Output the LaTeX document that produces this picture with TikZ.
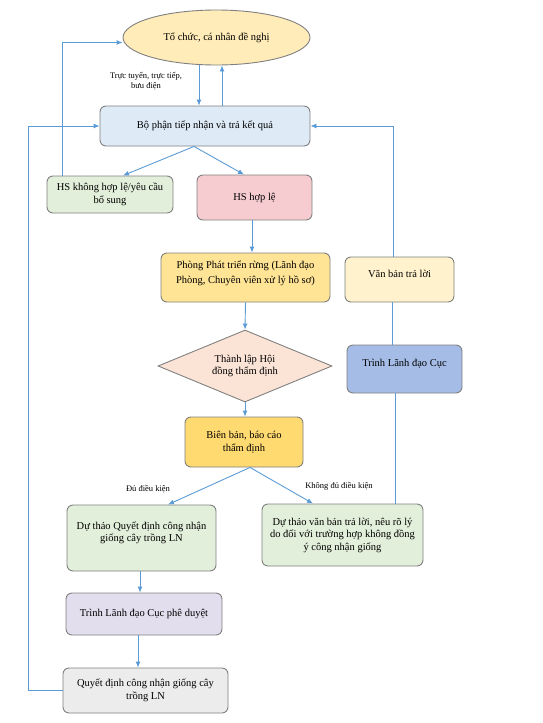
\documentclass[tikz,border=0pt]{standalone}
\usepackage{fontspec}
\setmainfont{Liberation Serif}
\usetikzlibrary{shapes.geometric,arrows.meta}
\definecolor{cEll}{RGB}{255,236,184}
\definecolor{cBP}{RGB}{222,235,247}
\definecolor{cGreen}{RGB}{226,239,218}
\definecolor{cPink}{RGB}{246,204,208}
\definecolor{cGold}{RGB}{255,228,150}
\definecolor{cPeach}{RGB}{251,228,214}
\definecolor{cGold2}{RGB}{255,218,112}
\definecolor{cCream}{RGB}{255,242,204}
\definecolor{cBlue}{RGB}{165,189,230}
\definecolor{cLav}{RGB}{226,222,238}
\definecolor{cGray}{RGB}{236,236,236}
\definecolor{cBorder}{RGB}{128,128,128}
\definecolor{cLine}{RGB}{91,155,213}
\tikzset{
  box/.style={draw=cBorder, line width=0.9pt, rounded corners=6pt, align=center,
    font=\fontsize{10.5}{12.5}\selectfont, inner sep=2pt},
  arr/.style={draw=cLine, line width=0.9pt, -{Latex[length=6pt,width=5pt]}},
  ln/.style={draw=cLine, line width=0.9pt},
  small/.style={font=\fontsize{8.5}{10}\selectfont, align=center, inner sep=0pt}
}
\begin{document}
\begin{tikzpicture}[x=1pt,y=-1pt]
\useasboundingbox (0,0) rectangle (542,723);
\node[draw=cBorder, line width=0.9pt, fill=cEll, ellipse, minimum width=187pt, minimum height=55pt, inner sep=0pt,
  font=\fontsize{10.5}{12.5}\selectfont] (ell) at (216.5,37.5) {Tổ chức, cá nhân đề nghị};
\node[box, fill=cBP, minimum width=210pt, minimum height=40pt] (bp) at (205,126) {Bộ phận tiếp nhận và trả kết quả};
\node[box, fill=cGreen, minimum width=126pt, minimum height=37pt] (hskh) at (110,194.5) {HS không hợp lệ/yêu cầu\\bổ sung};
\node[box, fill=cPink, minimum width=115pt, minimum height=45pt] (hshl) at (254.5,197.5) {HS hợp lệ};
\node[box, fill=cGold, minimum width=169pt, minimum height=49pt, text depth=10pt,
  font=\fontsize{10.5}{15}\selectfont] (phong) at (245.5,277.5) {Phòng Phát triển rừng (Lãnh đạo\\Phòng, Chuyên viên xử lý hồ sơ)};
\node[draw=cBorder, line width=0.9pt, fill=cPeach, diamond, aspect=2.4, minimum width=174pt, minimum height=72pt,
  inner sep=0pt, align=center, font=\fontsize{10.5}{12.5}\selectfont] (dia) at (245,366) {Thành lập Hội\\đồng thẩm định};
\node[box, fill=cGold2, minimum width=118pt, minimum height=50pt] (bb) at (244,442) {Biên bản, báo cáo\\thẩm định};
\node[box, fill=cCream, minimum width=109pt, minimum height=45pt, text height=7.5pt, text depth=11.5pt] (vb) at (399.5,279.5) {Văn bản trả lời};
\node[box, fill=cBlue, minimum width=115pt, minimum height=48pt, text height=7.5pt, text depth=13pt] (tlc) at (404.5,369) {Trình Lãnh đạo Cục};
\node[box, fill=cGreen, minimum width=149pt, minimum height=66pt, text depth=13pt] (dtqd) at (141.5,538) {Dự thảo Quyết định công nhận\\giống cây trồng LN};
\node[box, fill=cGreen, minimum width=161pt, minimum height=62pt] (dtvb) at (342.5,535) {Dự thảo văn bản trả lời, nêu rõ lý\\do đối với trường hợp không đồng\\ý công nhận giống};
\node[box, fill=cLav, minimum width=156pt, minimum height=42pt] (tpd) at (144,614) {Trình Lãnh đạo Cục phê duyệt};
\node[box, fill=cGray, minimum width=165pt, minimum height=45pt] (qd) at (145.5,690.5) {Quyết định công nhận giống cây\\trồng LN};

\node[small] (lbl1) at (146,81) {Trực tuyến, trực tiếp,\\bưu điện};
\node[small] (lbl2) at (148,489) {Đủ điều kiện};
\node[small] (lbl3) at (339,486) {Không đủ điều kiện};

\coordinate (lc) at (28,0);

\draw[arr] ([xshift=-17.5pt]ell.south) -- ([xshift=-6pt]bp.north);
\draw[arr] ([xshift=17pt]bp.north) -- ([xshift=17pt]bp.north |- ell.south);
\draw[arr] ([xshift=-11pt]bp.south) -- ([xshift=13pt]hskh.north);
\draw[arr] ([xshift=-11pt]bp.south) -- ([xshift=-10.5pt]hshl.north);
\draw[arr] ([xshift=-48pt]hskh.north) |- ([yshift=-5pt]ell.west);
\draw[arr] (qd.west) -- (qd.west -| lc) |- (bp.west);
\draw[arr] ([xshift=-6.5pt]vb.north) |- (bp.east);
\draw[arr] ([xshift=-2.5pt]hshl.south) -- ([xshift=-2.5pt]hshl.south |- phong.north);
\draw[arr] (phong.south) -- (dia.north);
\draw[arr] (dia.south) -- (dia.south |- bb.north);
\draw[arr] ([xshift=6pt]bb.south) -- ([xshift=26.5pt]dtqd.north);
\draw[arr] ([xshift=6pt]bb.south) -- ([xshift=-29.5pt]dtvb.north);
\draw[ln] ([xshift=-7.5pt]vb.south) -- ([xshift=-7.5pt]vb.south |- tlc.north);
\draw[ln] ([xshift=-9.5pt]tlc.south) -- ([xshift=-9.5pt]tlc.south |- dtvb.north);
\draw[arr] ([xshift=-1.5pt]dtqd.south) -- ([xshift=-1.5pt]dtqd.south |- tpd.north);
\draw[arr] ([xshift=-6pt]tpd.south) -- ([xshift=-6pt]tpd.south |- qd.north);
\end{tikzpicture}
\end{document}
